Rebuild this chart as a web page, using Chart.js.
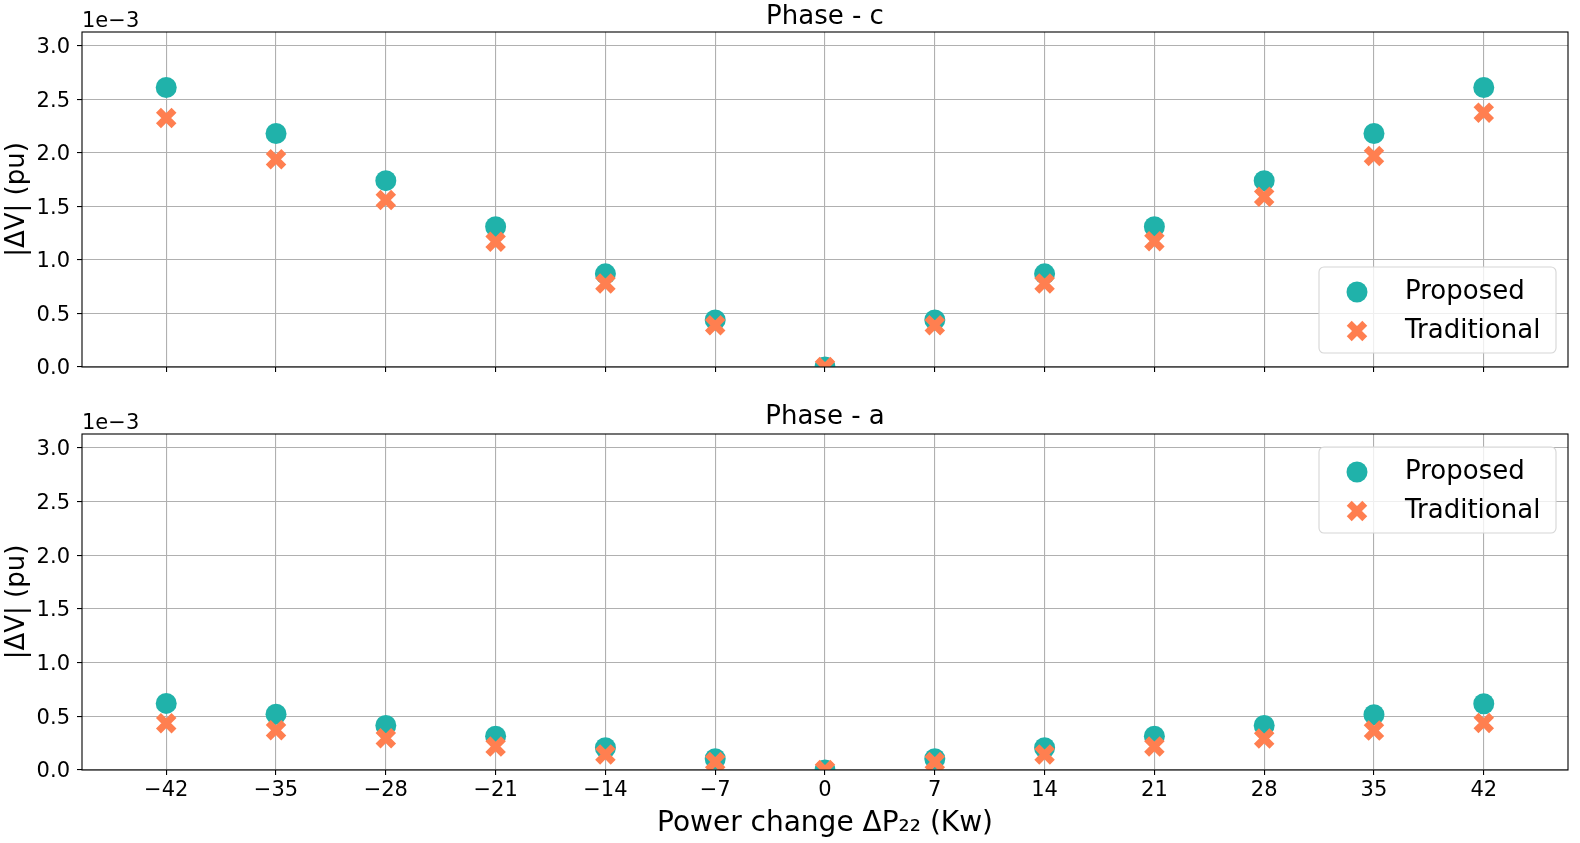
<!DOCTYPE html>
<html>
<head>
<meta charset="utf-8">
<script src="https://cdn.jsdelivr.net/npm/chart.js@4"></script>
<style>
  body { margin: 0; background: #fff; }
  canvas { position: absolute; left: 0; }
  #phaseC { top: 0; }
  #phaseA { top: 400px; }
</style>
</head>
<body>
<canvas id="phaseC" width="1580" height="400"></canvas>
<canvas id="phaseA" width="1580" height="443"></canvas>
<script>
// power change steps (Kw)
const powerSteps = [-42, -35, -28, -21, -14, -7, 0, 7, 14, 21, 28, 35, 42];
const yTicks = [0, 0.5, 1.0, 1.5, 2.0, 2.5, 3.0];

// |dV| in units of 1e-3 pu
const phaseCProposed = [2.61, 2.18, 1.74, 1.31, 0.87, 0.44, 0.0, 0.44, 0.87, 1.31, 1.74, 2.18, 2.61];
const phaseCTraditional = [2.325, 1.94, 1.56, 1.17, 0.78, 0.39, 0.0, 0.39, 0.78, 1.175, 1.59, 1.97, 2.375];
const phaseAProposed = [0.62, 0.52, 0.415, 0.315, 0.207, 0.105, 0.0, 0.105, 0.207, 0.315, 0.415, 0.515, 0.617];
const phaseATraditional = [0.435, 0.37, 0.295, 0.218, 0.145, 0.075, 0.0, 0.075, 0.145, 0.219, 0.293, 0.367, 0.438];

const TEAL = '#20b2aa';
const CORAL = '#ff7f50';
const FONT = "'DejaVu Sans', sans-serif";

function toPoints(vals) {
  return powerSteps.map((x, i) => ({ x: x, y: vals[i] }));
}

function fmtMinus(v) {
  return v < 0 ? '\u2212' + Math.abs(v) : String(v);
}

function drawX(ctx, x, y, r, w) {
  const d = r * Math.SQRT1_2;
  ctx.save();
  ctx.strokeStyle = CORAL;
  ctx.lineWidth = w;
  ctx.lineCap = 'butt';
  ctx.beginPath();
  ctx.moveTo(x - d, y - d); ctx.lineTo(x + d, y + d);
  ctx.moveTo(x - d, y + d); ctx.lineTo(x + d, y - d);
  ctx.stroke();
  ctx.restore();
}

// frame, title, offset text and legend box
const decor = {
  id: 'decor',
  afterDraw(chart, args, opts) {
    const ctx = chart.ctx;
    const a = chart.chartArea;
    ctx.save();
    ctx.strokeStyle = '#000';
    ctx.lineWidth = 1.1;
    ctx.strokeRect(a.left, a.top, a.right - a.left, a.bottom - a.top);

    ctx.fillStyle = '#000';
    ctx.font = '26px ' + FONT;
    ctx.textAlign = 'center';
    ctx.textBaseline = 'alphabetic';
    ctx.fillText(opts.title, (a.left + a.right) / 2, 24);

    ctx.font = '21px ' + FONT;
    ctx.textAlign = 'left';
    ctx.fillText('1e\u22123', a.left, a.top - 5);

    // legend
    const w = 237, h = 86;
    const bx = a.right - 12 - w;
    const by = opts.legendTop ? a.top + 13 : a.bottom - 14 - h;
    const r = 5;
    ctx.beginPath();
    ctx.moveTo(bx + r, by);
    ctx.arcTo(bx + w, by, bx + w, by + h, r);
    ctx.arcTo(bx + w, by + h, bx, by + h, r);
    ctx.arcTo(bx, by + h, bx, by, r);
    ctx.arcTo(bx, by, bx + w, by, r);
    ctx.closePath();
    ctx.fillStyle = 'rgba(255,255,255,0.8)';
    ctx.fill();
    ctx.strokeStyle = '#d6d6d6';
    ctx.lineWidth = 1.1;
    ctx.stroke();

    ctx.fillStyle = TEAL;
    ctx.beginPath();
    ctx.arc(bx + 38, by + 25, 10.5, 0, Math.PI * 2);
    ctx.fill();
    drawX(ctx, bx + 38, by + 64, 11, 7);

    ctx.fillStyle = '#000';
    ctx.font = '26px ' + FONT;
    ctx.textBaseline = 'middle';
    ctx.fillText('Proposed', bx + 86, by + 25);
    ctx.fillText('Traditional', bx + 86, by + 64);
    ctx.restore();
  }
};

function makeChart(id, title, proposed, traditional, isBottom) {
  const canvasH = isBottom ? 443 : 400;
  const areaBottom = isBottom ? 370 : 367;
  return new Chart(document.getElementById(id), {
    type: 'scatter',
    data: {
      datasets: [
        {
          label: 'Proposed',
          data: toPoints(proposed),
          pointStyle: 'circle',
          pointRadius: 10.5,
          pointHoverRadius: 10.5,
          backgroundColor: TEAL,
          borderWidth: 0,
          clip: 0,
          order: 1
        },
        {
          label: 'Traditional',
          data: toPoints(traditional),
          pointStyle: 'crossRot',
          pointRadius: 11,
          pointHoverRadius: 11,
          borderColor: CORAL,
          backgroundColor: CORAL,
          borderWidth: 7,
          pointBorderWidth: 7,
          clip: 0,
          order: 0
        }
      ]
    },
    options: {
      responsive: false,
      animation: false,
      devicePixelRatio: 1,
      layout: { autoPadding: false, padding: { left: 0, right: 12, top: isBottom ? 34 : 32, bottom: 0 } },
      plugins: {
        legend: { display: false },
        tooltip: { enabled: false },
        decor: { title: title, legendTop: isBottom }
      },
      scales: {
        x: {
          type: 'linear',
          min: -47.37,
          max: 47.37,
          afterBuildTicks: s => { s.ticks = powerSteps.map(v => ({ value: v })); },
          afterFit: s => { s.height = canvasH - areaBottom; },
          border: { display: false },
          grid: { color: '#b0b0b0', lineWidth: 1.1, tickColor: '#000', tickWidth: 1.1, tickLength: 5, drawTicks: true },
          ticks: {
            display: isBottom,
            padding: 3,
            color: '#000',
            font: { family: FONT, size: 21 },
            maxRotation: 0,
            autoSkip: false,
            callback: v => fmtMinus(v)
          },
          title: {
            display: isBottom,
            text: 'Power change \u0394P\u2082\u2082 (Kw)',
            color: '#000',
            font: { family: FONT, size: 28 },
            padding: { top: 0, bottom: 2 }
          }
        },
        y: {
          min: 0,
          max: 3.128,
          afterBuildTicks: s => { s.ticks = yTicks.map(v => ({ value: v })); },
          afterFit: s => { s.width = 82; },
          border: { display: false },
          grid: { color: '#b0b0b0', lineWidth: 1.1, tickColor: '#000', tickWidth: 1.1, tickLength: 5, drawTicks: true },
          ticks: {
            padding: 7,
            labelOffset: 2,
            color: '#000',
            font: { family: FONT, size: 21 },
            callback: v => v.toFixed(1)
          },
          title: {
            display: true,
            text: '|\u0394V| (pu)',
            color: '#000',
            font: { family: FONT, size: 26 },
            padding: { top: 2, bottom: 0 }
          }
        }
      }
    },
    plugins: [decor]
  });
}

makeChart('phaseC', 'Phase - c', phaseCProposed, phaseCTraditional, false);
makeChart('phaseA', 'Phase - a', phaseAProposed, phaseATraditional, true);
</script>
</body>
</html>
